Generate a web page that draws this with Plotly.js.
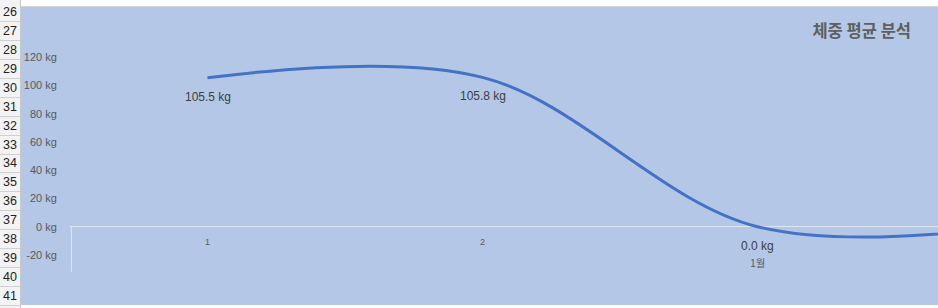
<!DOCTYPE html>
<html>
<head>
<meta charset="utf-8">
<script src="https://cdn.plot.ly/plotly-3.0.1.min.js"></script>
<style>
  html, body { margin: 0; padding: 0; width: 938px; height: 308px; overflow: hidden; background: #ffffff; }
  #sheet { position: absolute; left: 0; top: 0; width: 938px; height: 308px; }
  #blue { position: absolute; left: 21px; top: 7px; width: 917px; height: 298px; background: #B4C7E7; }
  #topline { position: absolute; left: 21px; top: 6px; width: 917px; height: 1px; background: #d4d4d4; }
  #rowhead { position: absolute; left: 0; top: 0; width: 20px; height: 308px; background: #f3f3f3; border-right: 1px solid #c8c8c8; }
  .rh { position: absolute; left: 0; width: 20px; height: 18px; border-bottom: 1px solid #d0d0d0;
        font-family: "Liberation Sans", Arial, sans-serif; font-size: 12.5px; color: #222; text-align: center; line-height: 19px; }
  #chart { position: absolute; left: 0; top: 0; width: 938px; height: 308px; }
</style>
</head>
<body>
<div id="sheet">
  <div id="blue"></div>
  <div id="topline"></div>
  <div id="rowhead"></div>
</div>
<div id="chart"></div>
<script>
// ---- data ----
const categories = [1, 2, 3, 4];
const weights = [105.5, 105.8, 0.0, 2.0];
const categoryLabels = ["1", "2", ""];
const groupLabel = "1월";
const yTickValues = [-20, 0, 20, 40, 60, 80, 100, 120];
const unit = " kg";
const chartTitle = "체중 평균 분석";
const rowNumbers = [26, 27, 28, 29, 30, 31, 32, 33, 34, 35, 36, 37, 38, 39, 40, 41];

// ---- spreadsheet row headers ----
const rh = document.getElementById('rowhead');
rowNumbers.forEach((n, i) => {
  const d = document.createElement('div');
  d.className = 'rh';
  d.style.top = (3 + i * 18.93) + 'px';
  d.textContent = n;
  rh.appendChild(d);
});

const labelFont = { family: "Liberation Sans, Arial, sans-serif", size: 12, color: "#404040" };

const annotations = [];
categories.forEach((c, i) => {
  if (c <= 3) {
    annotations.push({
      x: c, y: weights[i], xref: 'x', yref: 'y',
      text: weights[i].toFixed(1) + unit,
      showarrow: false, yshift: -19, font: labelFont
    });
  }
});
categoryLabels.forEach((t, i) => {
  if (t) annotations.push({
    x: categories[i], y: 0, xref: 'x', yref: 'y', text: t, showarrow: false,
    yshift: -15, font: { family: "Liberation Sans, Arial, sans-serif", size: 9, color: "#595959" }
  });
});
annotations.push({
  x: categories[2], y: 0, xref: 'x', yref: 'y', text: groupLabel, showarrow: false,
  yshift: -36, font: { family: "Noto Sans CJK KR, sans-serif", size: 10.5, color: "#595959" }
});

const trace = {
  x: categories, y: weights, type: 'scatter', mode: 'lines',
  line: { color: '#4472C4', width: 3, shape: 'spline', smoothing: 1 },
  hoverinfo: 'skip'
};

const layout = {
  width: 938, height: 308,
  margin: { l: 70, r: 0, t: 20, b: 30 },
  paper_bgcolor: 'rgba(0,0,0,0)', plot_bgcolor: 'rgba(0,0,0,0)',
  showlegend: false,
  title: {
    text: chartTitle, xref: 'container', yref: 'container',
    x: 911 / 938, xanchor: 'right', y: 1 - 31 / 308, yanchor: 'middle',
    font: { family: "Noto Sans CJK KR, sans-serif", size: 16.5, color: '#5f5f5f', weight: 'bold' }
  },
  xaxis: {
    range: [0.5, 0.5 + 868 / 275], showgrid: false, zeroline: false, showline: false,
    showticklabels: false, fixedrange: true
  },
  yaxis: {
    range: [-(278 - 226.7) / 1.4117, (226.7 - 20) / 1.4117],
    tickvals: yTickValues, ticktext: yTickValues.map(v => v + unit),
    ticks: 'outside', ticklen: 10, tickcolor: 'rgba(0,0,0,0)',
    tickfont: { family: "Liberation Sans, Arial, sans-serif", size: 11, color: '#595959' },
    showgrid: false, zeroline: true, zerolinecolor: '#dfe6f3', zerolinewidth: 1, showline: false
  },
  shapes: [{
    type: 'line', xref: 'x', yref: 'y', x0: 0.505, x1: 0.505, y0: 0, y1: -32,
    line: { color: '#dfe6f3', width: 1 }
  }],
  annotations: annotations
};

Plotly.newPlot('chart', [trace], layout, { staticPlot: true, displayModeBar: false });
</script>
</body>
</html>
